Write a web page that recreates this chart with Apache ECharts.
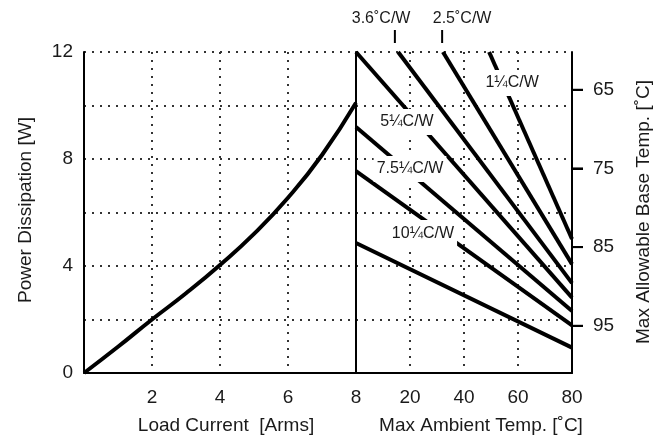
<!DOCTYPE html>
<html><head><meta charset="utf-8">
<script src="https://cdn.jsdelivr.net/npm/echarts@6/dist/echarts.min.js"></script>
<style>html,body{margin:0;padding:0;background:#fff}#c{width:667px;height:437px}</style>
</head><body><div id="c"></div>
<script>
// Left panel: power dissipation vs load current
const loadCurrent = [0, 1, 2, 3, 4, 5, 6, 7, 8];
const powerDissipation = [0, 0.98, 2.0, 2.98, 4.04, 5.2, 6.55, 8.15, 10.1];
// Right panel: heat-sink lines (power vs ambient temperature)
const sinkNames = ['1°C/W', '2.5°C/W', '3.6°C/W', '5°C/W', '7.5°C/W', '10°C/W', 'no heatsink'];
const sinkStartTemp = [49.3, 32.2, 15.6, 0, 0, 0, 0];
const sinkStartPower = [12, 12, 12, 12, 9.2, 7.55, 4.86];
const sinkEndTemp = [80, 80, 80, 80, 80, 80, 80];
const sinkEndPower = [5.01, 4.07, 3.36, 2.82, 2.32, 1.78, 0.95];
// Labels
const inlineLabels = ['1¼C/W', '5¼C/W', '7.5¼C/W', '10¼C/W'];
const inlineLabelTemp = [57.8, 18.9, 20.0, 24.8];
const inlineLabelPower = [10.84, 9.38, 7.63, 5.23];
const topLabels = ['3.6˚C/W', '2.5˚C/W'];
const topLabelTemp = [9.3, 39.3];
const topTickTemp = [14.4, 31.9];
const baseTempTicks = [65, 75, 85, 95];
const baseTempRange = [60.2, 101];
const currentTickLabels = [2, 4, 6, 8];
const ambientTickLabels = [20, 40, 60, 80];
const powerTickLabels = [0, 4, 8, 12];

const FONT = 'Liberation Sans, Arial, Helvetica, sans-serif';
const TXT = '#1a1a1a';
const dotted = { show: true, lineStyle: { type: [2, 6], color: '#333', width: 2 } };
const axisLineStyle = { show: true, lineStyle: { color: '#000', width: 2 } };

const chart = echarts.init(document.getElementById('c'), null, { renderer: 'canvas' });

const series = [{
  type: 'line', xAxisIndex: 0, yAxisIndex: 0,
  data: loadCurrent.map((x, i) => [x, powerDissipation[i]]),
  smooth: 0.5, showSymbol: false, symbol: 'none',
  lineStyle: { color: '#000', width: 4 }, z: 5
}];
sinkNames.forEach((n, i) => {
  series.push({
    type: 'line', name: n, xAxisIndex: 1, yAxisIndex: 1,
    data: [[sinkStartTemp[i], sinkStartPower[i]], [sinkEndTemp[i], sinkEndPower[i]]],
    showSymbol: false, symbol: 'none',
    lineStyle: { color: '#000', width: 4 }, z: 5
  });
});

chart.setOption({
  animation: false,
  backgroundColor: '#fff',
  grid: [
    { left: 84, right: 311, top: 52, bottom: 64 },
    { left: 356, right: 95, top: 52, bottom: 64 }
  ],
  xAxis: [
    { gridIndex: 0, type: 'value', min: 0, max: 8, interval: 2,
      axisLine: axisLineStyle, axisTick: { show: false },
      axisLabel: { formatter: v => currentTickLabels.includes(v) ? String(v) : '', fontSize: 19, color: TXT, fontFamily: FONT, margin: 15 },
      splitLine: dotted },
    { gridIndex: 1, type: 'value', min: 0, max: 80, interval: 20,
      axisLine: axisLineStyle, axisTick: { show: false },
      axisLabel: { formatter: v => ambientTickLabels.includes(v) ? String(v) : '', fontSize: 19, color: TXT, fontFamily: FONT, margin: 15 },
      splitLine: dotted }
  ],
  yAxis: [
    { gridIndex: 0, type: 'value', min: 0, max: 12, interval: 2,
      axisLine: axisLineStyle, axisTick: { show: false },
      axisLabel: { formatter: v => powerTickLabels.includes(v) ? String(v) : '', fontSize: 19, color: TXT, fontFamily: FONT, margin: 11 },
      splitLine: dotted },
    { gridIndex: 1, type: 'value', min: 0, max: 12, interval: 2, position: 'left',
      axisLine: axisLineStyle, axisTick: { show: false }, axisLabel: { show: false },
      splitLine: dotted },
    { gridIndex: 1, type: 'value', position: 'right', inverse: true, min: baseTempRange[0], max: baseTempRange[1],
      axisLine: axisLineStyle,
      axisTick: { show: true, inside: false, customValues: baseTempTicks, length: 11, lineStyle: { color: '#000', width: 2 } },
      axisLabel: { customValues: baseTempTicks, fontSize: 19, color: TXT, fontFamily: FONT, margin: 21 },
      splitLine: { show: false } }
  ],
  series: series
});

const graphics = [
  { type: 'text', x: 26, y: 210, rotation: Math.PI / 2,
    style: { text: 'Power Dissipation [W]', fontSize: 19, fontFamily: FONT, fill: TXT, align: 'center', verticalAlign: 'middle' } },
  { type: 'text', x: 226, y: 426,
    style: { text: 'Load Current  [Arms]', fontSize: 19, fontFamily: FONT, fill: TXT, align: 'center', verticalAlign: 'middle' } },
  { type: 'text', x: 481, y: 426,
    style: { text: 'Max Ambient Temp. [˚C]', fontSize: 19, fontFamily: FONT, fill: TXT, align: 'center', verticalAlign: 'middle' } },
  { type: 'text', x: 644, y: 212, rotation: Math.PI / 2,
    style: { text: 'Max Allowable Base Temp. [˚C]', fontSize: 19, fontFamily: FONT, fill: TXT, align: 'center', verticalAlign: 'middle' } }
];
topLabels.forEach((t, i) => {
  const top = chart.convertToPixel({ gridIndex: 1 }, [topTickTemp[i], 12]);
  const lab = chart.convertToPixel({ gridIndex: 1 }, [topLabelTemp[i], 12]);
  graphics.push({ type: 'line', shape: { x1: top[0], y1: top[1] - 22, x2: top[0], y2: top[1] - 9 },
    style: { stroke: '#000', lineWidth: 2 } });
  graphics.push({ type: 'text', x: lab[0], y: top[1] - 33,
    style: { text: t, fontSize: 16, fontFamily: FONT, fill: TXT, align: 'center', verticalAlign: 'middle' } });
});
baseTempTicks.forEach(v => {
  const pEq = (baseTempRange[1] - v) / (baseTempRange[1] - baseTempRange[0]) * 12;
  const pt = chart.convertToPixel({ gridIndex: 1 }, [80, pEq]);
  graphics.push({ type: 'rect', shape: { x: pt[0], y: pt[1] - 1, width: 11, height: 2 },
    style: { fill: '#000' } });
});
inlineLabels.forEach((t, i) => {
  const p = chart.convertToPixel({ gridIndex: 1 }, [inlineLabelTemp[i], inlineLabelPower[i]]);
  graphics.push({ type: 'text', x: p[0], y: p[1], z: 100,
    style: { text: t, fontSize: 16, fontFamily: FONT, fill: TXT, align: 'center', verticalAlign: 'middle',
      backgroundColor: '#fff', padding: [5, 3] } });
});
chart.setOption({ graphic: graphics });
</script>
</body></html>
